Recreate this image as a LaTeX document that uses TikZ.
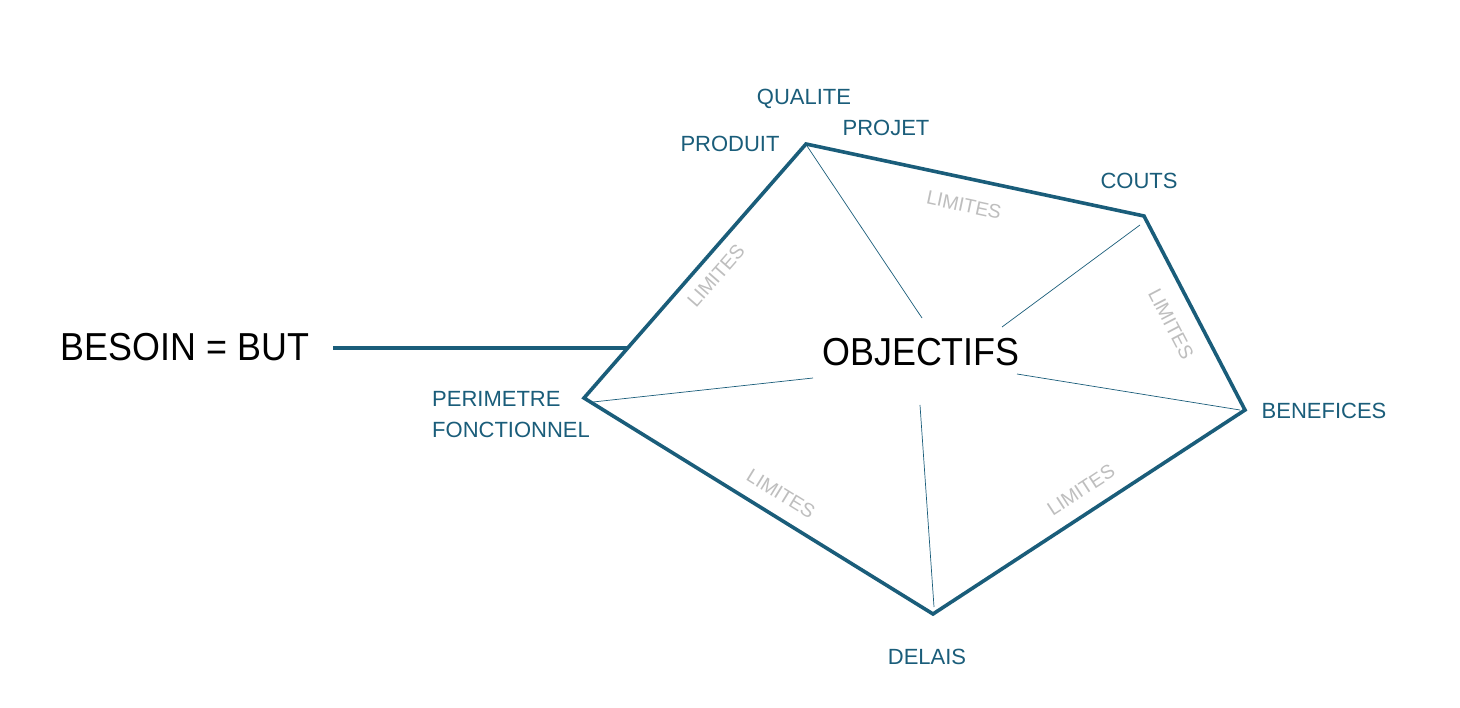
\documentclass[tikz,border=0pt]{standalone}
\usepackage{fontspec}
\setmainfont{Liberation Sans}
\newfontfamily\bigfont[FakeStretch=0.92]{Liberation Sans}
\definecolor{teal}{RGB}{26,93,122}
\definecolor{limgray}{RGB}{190,190,190}
\begin{document}
\begin{tikzpicture}[x=1pt,y=-1pt,
  thickedge/.style={draw=teal,line width=3.6pt,line join=miter},
  spoke/.style={draw=teal,line width=0.7pt},
  vlabel/.style={text=teal,font=\fontsize{22}{31}\selectfont,inner sep=0pt},
  limlabel/.style={text=limgray,font=\fontsize{19.5}{22}\selectfont,inner sep=0pt},
  biglabel/.style={text=black,font=\bigfont\fontsize{39}{44}\selectfont,inner sep=0pt}]
\useasboundingbox (0,0) rectangle (1460,708);
\fill[white] (0,0) rectangle (1460,708);
% vertices
\coordinate (pr) at (806,144);
\coordinate (co) at (1144,216);
\coordinate (be) at (1245,410);
\coordinate (de) at (933,614);
\coordinate (pe) at (584,398);
% pentagon
\draw[thickedge] (pe) -- (pr) -- (co) -- (be) -- (de) -- cycle;
% besoin line
\node[biglabel] (besoin) at (185,347) {BESOIN = BUT};
\coordinate (bstart) at (333,348);
\coordinate (bend) at (627,348);
\draw[thickedge,line width=3.2pt] (bstart) -- (bend);
% centre
\node[biglabel] (obj) at (921,352) {OBJECTIFS};
% spokes
\coordinate (s1a) at (807,146); \coordinate (s1b) at (922,318);
\coordinate (s2a) at (1140,225); \coordinate (s2b) at (1002,327);
\coordinate (s3a) at (1240,410); \coordinate (s3b) at (1017,374);
\coordinate (s4a) at (934,607); \coordinate (s4b) at (920,405);
\coordinate (s5a) at (593,402); \coordinate (s5b) at (813,378);
\draw[spoke] (s1a) -- (s1b);
\draw[spoke] (s2a) -- (s2b);
\draw[spoke] (s3a) -- (s3b);
\draw[spoke] (s4a) -- (s4b);
\draw[spoke] (s5a) -- (s5b);
% vertex labels
\node[vlabel] (qualite) at (804,99) {QUALITE};
\node[vlabel] (produit) at (730,144) {PRODUIT};
\node[vlabel] (projet) at (886,128) {PROJET};
\node[vlabel] (couts) at (1139,181) {COUTS};
\node[vlabel] (benef) at (1324,411) {BENEFICES};
\node[vlabel] (delais) at (927,657) {DELAIS};
\node[vlabel,align=left,anchor=north west] (perim) at (432,391) {PERIMETRE\\FONCTIONNEL};
% limites labels
\node[limlabel,rotate=48.8] (l1) at (716,276) {LIMITES};
\node[limlabel,rotate=-12] (l2) at (964,205) {LIMITES};
\node[limlabel,rotate=-62.5] (l3) at (1171,324) {LIMITES};
\node[limlabel,rotate=33.2] (l4) at (1081,490) {LIMITES};
\node[limlabel,rotate=-31.7] (l5) at (781,494) {LIMITES};
\end{tikzpicture}
\end{document}
